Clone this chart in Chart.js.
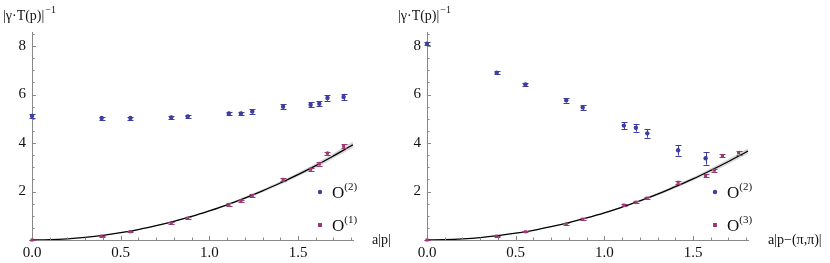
<!DOCTYPE html>
<html>
<head>
<meta charset="utf-8">
<script src="https://cdn.jsdelivr.net/npm/chart.js@4/dist/chart.umd.min.js"></script>
<style>
  html, body { margin: 0; padding: 0; background: #fff; }
  #wrap { position: relative; width: 830px; height: 263px; overflow: hidden; }
  canvas { position: absolute; top: 0; }
  .warm { font-family: 'Liberation Serif'; position: absolute; left: -999px; }
</style>
</head>
<body>
<span class="warm">0.5 O a|p|</span>
<div id="wrap">
  <canvas id="graf_left" width="435" height="263" style="left:0"></canvas>
  <canvas id="graf_right" width="435" height="263" style="left:395px"></canvas>
</div>
<script>
// dados ------------------------------------------------

// momentos da rede a|p|
const momenta = [0, 0.393, 0.555, 0.785, 0.878, 1.11, 1.178, 1.242, 1.416, 1.571, 1.62, 1.666, 1.757];

// painel esquerdo
const leftO2 = [5.12, 5.03, 5.03, 5.06, 5.1, 5.22, 5.22, 5.3, 5.5, 5.58, 5.62, 5.86, 5.9];
const leftO2Err = [0.07, 0.06, 0.06, 0.07, 0.07, 0.08, 0.08, 0.09, 0.1, 0.1, 0.1, 0.12, 0.13];
const leftO1 = [0, 0.16, 0.34, 0.69, 0.9, 1.47, 1.62, 1.84, 2.5, 2.92, 3.14, 3.58, 3.87];
const leftO1Err = [0.01, 0.02, 0.03, 0.04, 0.04, 0.05, 0.05, 0.05, 0.06, 0.06, 0.07, 0.07, 0.08];

// painel direito
const rightO2 = [8.1, 6.9, 6.42, 5.76, 5.47, 4.72, 4.63, 4.4, 3.7, 3.37];
const rightO2Err = [0.05, 0.07, 0.07, 0.09, 0.1, 0.14, 0.16, 0.18, 0.22, 0.26];
const rightO3 = [0, 0.16, 0.34, 0.66, 0.86, 1.44, 1.56, 1.73, 2.38, 2.65, 2.88, 3.48, 3.6];
const rightO3Err = [0.01, 0.02, 0.03, 0.03, 0.04, 0.04, 0.04, 0.04, 0.05, 0.06, 0.06, 0.07, 0.08];

// curva de ajuste + faixa de erro
const fitX = [0, 0.1, 0.2, 0.3, 0.4, 0.5, 0.6, 0.7, 0.8, 0.9, 1.0, 1.1, 1.2, 1.3, 1.4, 1.5, 1.6, 1.7, 1.8, 1.81];
const leftFit = [0, 0.012, 0.048, 0.108, 0.19, 0.30, 0.43, 0.59, 0.77, 0.97, 1.2, 1.45, 1.73, 2.03, 2.35, 2.70, 3.07, 3.47, 3.89, 3.93];
const leftBand = [0, 0, 0, 0, 0.005, 0.01, 0.01, 0.015, 0.02, 0.025, 0.03, 0.04, 0.05, 0.06, 0.07, 0.08, 0.1, 0.11, 0.13, 0.13];
const rightFit = [0, 0.011, 0.045, 0.1, 0.18, 0.28, 0.40, 0.55, 0.72, 0.91, 1.12, 1.36, 1.61, 1.89, 2.2, 2.52, 2.87, 3.24, 3.63, 3.67];
const rightBand = [0, 0, 0, 0, 0.005, 0.01, 0.01, 0.015, 0.02, 0.025, 0.03, 0.035, 0.045, 0.055, 0.065, 0.075, 0.09, 0.1, 0.11, 0.11];

// eixos
const xTicks = [0, 0.5, 1.0, 1.5];
const yTicks = [2, 4, 6, 8];
const xMax = 1.81;
const yMax = 8.58;

const BLUE = '#3e3ea0';
const MAGENTA = '#9c3a74';
const SERIF = "'Liberation Serif', 'Times New Roman', Times, serif";

function pts(xs, ys) {
  return ys.map((y, i) => ({ x: xs[i], y: y }));
}

// plugin: barras de erro, ticks para dentro, títulos e legenda
const decor = {
  id: 'decor',
  afterDatasetsDraw(chart) {
    const ctx = chart.ctx;
    const ys = chart.scales.y;
    chart.data.datasets.forEach((ds, di) => {
      if (!ds.errors) return;
      const meta = chart.getDatasetMeta(di);
      ctx.save();
      ctx.strokeStyle = ds.borderColor;
      ctx.lineWidth = 1;
      meta.data.forEach((el, i) => {
        const e = ds.errors[i];
        const y0 = ys.getPixelForValue(ds.data[i].y - e);
        const y1 = ys.getPixelForValue(ds.data[i].y + e);
        const x = Math.round(el.x) + 0.5;
        ctx.beginPath();
        ctx.moveTo(x, y0); ctx.lineTo(x, y1);
        ctx.moveTo(x - 3, Math.round(y0) + 0.5); ctx.lineTo(x + 3, Math.round(y0) + 0.5);
        ctx.moveTo(x - 3, Math.round(y1) + 0.5); ctx.lineTo(x + 3, Math.round(y1) + 0.5);
        ctx.stroke();
      });
      ctx.restore();
    });
  },
  afterDraw(chart, args, opts) {
    const ctx = chart.ctx;
    const area = chart.chartArea;
    const xs = chart.scales.x, ys = chart.scales.y;
    ctx.save();
    // ticks para dentro
    ctx.strokeStyle = '#888';
    ctx.lineWidth = 1;
    ctx.beginPath();
    for (let k = 1; k * 0.1 <= xMax + 1e-9; k++) {
      const v = k * 0.1;
      const major = k % 5 === 0;
      const px = Math.round(xs.getPixelForValue(v)) + 0.5;
      ctx.moveTo(px, area.bottom);
      ctx.lineTo(px, area.bottom - (major ? 4 : 2.5));
    }
    for (let k = 1; k * 0.5 <= yMax; k++) {
      const v = k * 0.5;
      const major = k % 4 === 0;
      const py = Math.round(ys.getPixelForValue(v)) + 0.5;
      ctx.moveTo(area.left, py);
      ctx.lineTo(area.left + (major ? 4 : 2.5), py);
    }
    ctx.stroke();

    ctx.fillStyle = '#111';
    ctx.textBaseline = 'alphabetic';
    // título do eixo y
    ctx.font = '14px ' + SERIF;
    const tx = area.left - 29;
    ctx.fillText('|\u03B3\u00B7T(p)|', tx, 20);
    const w = ctx.measureText('|\u03B3\u00B7T(p)|').width;
    ctx.font = '10px ' + SERIF;
    ctx.fillText('\u22121', tx + w + 1, 13);
    // título do eixo x
    ctx.font = '14px ' + SERIF;
    ctx.textBaseline = 'middle';
    ctx.fillText(opts.xTitle, area.right + opts.xTitleGap, area.bottom);

    // legenda
    ctx.textBaseline = 'alphabetic';
    opts.legend.forEach((item, i) => {
      const lx = area.right - 33;
      const ly = area.top + 160 + i * 33;
      ctx.fillStyle = item.color;
      if (item.shape === 'circle') {
        ctx.beginPath();
        ctx.arc(lx, ly, 2.2, 0, Math.PI * 2);
        ctx.fill();
      } else {
        ctx.fillRect(lx - 2, ly - 2, 4, 4);
      }
      ctx.fillStyle = '#111';
      ctx.font = '17px ' + SERIF;
      ctx.fillText('O', lx + 12, ly + 6);
      const ow = ctx.measureText('O').width;
      ctx.font = '11px ' + SERIF;
      ctx.fillText(item.sup, lx + 12 + ow, ly - 2);
    });
    ctx.restore();
  }
};

function makeChart(id, cfg) {
  const fitHi = cfg.fit.map((v, i) => v + cfg.band[i]);
  const fitLo = cfg.fit.map((v, i) => v - cfg.band[i]);
  return new Chart(document.getElementById(id), {
    type: 'scatter',
    data: {
      datasets: [
        {
          label: 'O2', data: pts(momenta, cfg.o2), errors: cfg.o2Err,
          backgroundColor: BLUE, borderColor: BLUE,
          pointStyle: 'circle', pointRadius: 2.2, pointBorderWidth: 0, clip: false
        },
        {
          label: cfg.otherLabel, data: pts(momenta, cfg.other), errors: cfg.otherErr,
          backgroundColor: MAGENTA, borderColor: MAGENTA,
          pointStyle: 'rect', pointRadius: 2.2, pointBorderWidth: 0, clip: false
        },
        {
          type: 'line', label: 'fit', data: pts(fitX, cfg.fit),
          borderColor: '#000', borderWidth: 1.3, pointRadius: 0, fill: false, tension: 0.4
        },
        {
          type: 'line', label: 'hi', data: pts(fitX, fitHi),
          borderWidth: 0, borderColor: 'rgba(0,0,0,0)', pointRadius: 0,
          backgroundColor: 'rgba(150,150,150,0.35)', fill: '+1', tension: 0.4
        },
        {
          type: 'line', label: 'lo', data: pts(fitX, fitLo),
          borderWidth: 0, borderColor: 'rgba(0,0,0,0)', pointRadius: 0, fill: false, tension: 0.4
        }
      ]
    },
    options: {
      responsive: false,
      devicePixelRatio: 1,
      animation: false,
      events: [],
      layout: { padding: { top: 32, right: 82, left: 0, bottom: 0 } },
      plugins: {
        legend: { display: false },
        tooltip: { enabled: false },
        filler: { drawTime: 'beforeDatasetsDraw' },
        decor: { xTitle: cfg.xTitle, xTitleGap: cfg.xTitleGap, legend: cfg.legend }
      },
      scales: {
        x: {
          type: 'linear', min: 0, max: xMax,
          afterBuildTicks: s => { s.ticks = xTicks.map(v => ({ value: v })); },
          afterFit: s => { s.height = 23; },
          grid: { display: true, drawOnChartArea: false, drawTicks: false },
          border: { display: true, color: '#888', width: 1 },
          ticks: {
            padding: 4, color: '#111', font: { family: SERIF, size: 15 },
            callback: v => v.toFixed(1), maxRotation: 0
          }
        },
        y: {
          type: 'linear', min: 0, max: yMax,
          afterBuildTicks: s => { s.ticks = yTicks.map(v => ({ value: v })); },
          afterFit: s => { s.width = 32; },
          grid: { display: true, drawOnChartArea: false, drawTicks: false },
          border: { display: true, color: '#888', width: 1 },
          ticks: {
            padding: 6, color: '#111', font: { family: SERIF, size: 15 },
            callback: v => String(v)
          }
        }
      }
    },
    plugins: [decor]
  });
}

function drawAll() {
  makeChart('graf_left', {
    o2: leftO2, o2Err: leftO2Err,
    other: leftO1, otherErr: leftO1Err, otherLabel: 'O1',
    fit: leftFit, band: leftBand,
    xTitle: 'a|p|', xTitleGap: 19,
    legend: [
      { shape: 'circle', color: BLUE, sup: '(2)' },
      { shape: 'rect', color: MAGENTA, sup: '(1)' }
    ]
  });

  makeChart('graf_right', {
    o2: rightO2, o2Err: rightO2Err,
    other: rightO3, otherErr: rightO3Err, otherLabel: 'O3',
    fit: rightFit, band: rightBand,
    xTitle: 'a|p\u2212(\u03C0,\u03C0)|', xTitleGap: 20,
    legend: [
      { shape: 'circle', color: BLUE, sup: '(2)' },
      { shape: 'rect', color: MAGENTA, sup: '(3)' }
    ]
  });
}

if (document.fonts && document.fonts.load) {
  document.fonts.load("15px 'Liberation Serif'").then(drawAll, drawAll);
} else {
  drawAll();
}
</script>
</body>
</html>
